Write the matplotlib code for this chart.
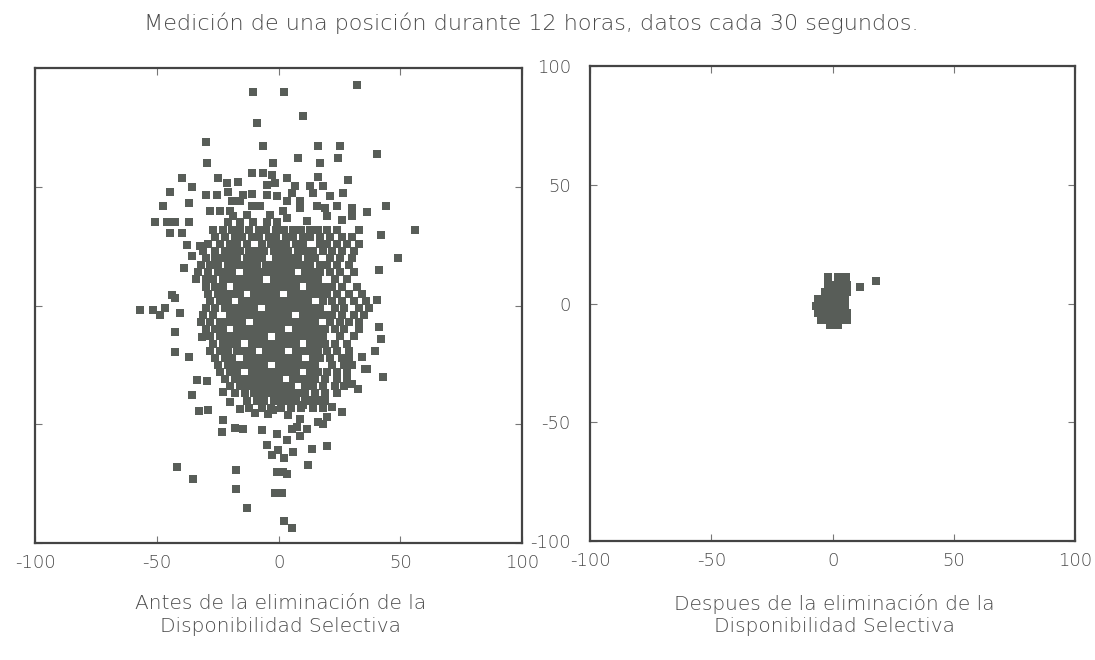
import numpy as np
import matplotlib
matplotlib.use("Agg")
import matplotlib.pyplot as plt


TITLE = "Medición de una posición durante 12 horas, datos cada 30 segundos."
LEFT_CAPTION = "Antes de la eliminación de la\nDisponibilidad Selectiva"
RIGHT_CAPTION = "Despues de la eliminación de la\nDisponibilidad Selectiva"
TICKS = [-100, -50, 0, 50, 100]

# scattered points around the cloud (before SA removal), read one by one
left_outer_x = [
    -10.5, -9, -30, -6.4, -29.4, -2.3, 2, 32, 10, 16, 25, 40.5, 8, 17, 24.5,
    3.5, 16, 28.6, -39.7, -35.6, -44.6, -37, -47.5, -30, -25.3, -24.9, -21.2,
    -16.7, -11, -6.4, -2.7, -4.7, -1.4, -20.8, -14.6, -11, -4.7, -0.6, -19,
    -15.8, -11, -7.6, -28, -24, -20, -50.8, -45.9, -42.6, -37, -18.7, -13,
    -3.5, -21, -15.8, -10.5, -4.7, -0.6, 6.8, 13, 18, 5.6, 14.2, 21.2, 26.5,
    3.5, 8.8, 1.9, 8.8, 15.8, 19, 24, 30.2, 36.4, 44, 3.5, 11.7, 20, 26, 30.2,
    -44.6, -39.7, -37.6, -32.3, -35.6, -39, -43.8, -42.6, -57, -51.6, -48.8,
    -46.7, -40.5, -42.6, -31.5, -42.6, -37, -33.5, -29.4, -35.6, -32.7, -29,
    -22.8, -23.2, -17.9, -14.6, -6.8, -20, -15.8, -22.8, -9.7, -4.3, -2.3,
    -4.7, -2.7, -0.2, -0.6, -1.4, -41.8, -35, -17.5, -17.5, -13, -0.6,
    56, 49, 41, 41.8, 40.5, 41, 41.8, 39.7, 34.4, 43, 36.4, 32.7, 26, 20, 12,
    13.5, 6, 3.5, 1.9, 1.4, 2, 5.6, 3.5, 8.8, 11.7, 16.3, 7.6, 2, 18.3, 20,
    22, 16.9, 10, 13.8, 8.8, 4, 5.6, 30.2, 35.6,
]
left_outer_y = [
    90, 77, 69, 67, 60, 60, 90, 93, 80, 67, 67, 64, 62, 60, 62,
    53.5, 54, 52.7, 53.5, 50, 48, 43, 42, 46.4, 46.4, 53.5, 51.5,
    52, 56, 56, 55, 50.6, 51.5, 48, 46.4, 47, 46.4, 46, 44,
    44, 42, 42, 40, 39.7, 40, 35, 35, 35, 35, 37.7, 38,
    38, 35, 35, 35, 35, 35, 50.2, 50.2, 50.2, 47.3, 47.3, 46, 47.3,
    44, 44, 40, 41, 42, 41, 42, 41, 39.3, 42, 36.8, 35.6, 37.7, 36, 37.7,
    30.5, 30.5, 25.5, 25, 21, 16, 4.6, 3.3, -1.7, -2, -4,
    -1, -3, -11.3, -13.4, -19.7, -21.8, -31.5, -31.8, -37.5, -44.4, -44,
    -48, -53, -51.5, -52, -52.3, -40.6, -43.5, -36.4, -45, -45.6, -44,
    -58.6, -62.8, -60.7, -69.9, -79, -67.8, -73, -69, -77, -85, -54,
    32, 20, 15, 29.7, 2.5, -9, -14, -19, -21.8, -30, -26.8, -35, -44.8, -59, -67,
    -60.5, -61.5, -71, -70, -79, -90.8, -93.7, -56.5, -55, -52, -49, -51, -64, -50, -46.9,
    -42.7, -39.7, -41.8, -39.7, -47.7, -46, -52, -33, -26.8,
]

# dense core of the cloud, read row by row (y level -> x positions)
core_row_y = [32, 29, 26, 23, 20, 17, 14, 11, 8, 5, 2, -1, -4, -7, -10,
              -13, -16, -19, -22, -25, -28, -31, -34, -37, -40, -43]
core_row_x = [
    [-27, -23, -19, -16, -12, -8, -5, -1, 2, 6, 9, 13, 16, 20, 24, 33],
    [-26, -22, -18, -15, -11, -8, -4, -1, 3, 6, 10, 13, 17, 21, 26, 30],
    [-29, -24, -20, -17, -13, -7, -3, 0, 3, 7, 10, 17, 20, 24, 28, 33],
    [-31, -26, -22, -19, -16, -12, -9, -6, -2, 1, 4, 8, 11, 14, 18, 22, 26, 31],
    [-30, -26, -23, -20, -17, -13, -10, -7, -1, 2, 5, 8, 12, 15, 21, 25, 30],
    [-32, -28, -25, -21, -18, -15, -12, -9, -5, -2, 1, 4, 7, 10, 13, 17, 20, 24, 29],
    [-33, -29, -25, -22, -19, -13, -10, -7, -4, -1, 2, 5, 11, 14, 17, 21, 25, 31],
    [-34, -30, -27, -23, -20, -17, -14, -11, -8, -2, 1, 4, 7, 10, 13, 16, 23, 28],
    [-30, -26, -23, -17, -14, -11, -8, -5, -2, 1, 4, 7, 13, 16, 19, 22, 26, 32],
    [-29, -25, -22, -19, -16, -10, -7, -4, -1, 5, 8, 11, 14, 17, 20, 24, 29, 34],
    [-28, -24, -21, -15, -12, -9, -6, -3, 0, 3, 6, 9, 12, 18, 22, 26, 31, 36],
    [-30, -26, -22, -19, -16, -13, -10, -4, -1, 2, 5, 8, 11, 14, 17, 23, 27, 33, 37],
    [-31, -27, -20, -17, -14, -11, -8, -5, -2, 1, 4, 10, 13, 16, 19, 22, 26, 31, 35],
    [-32, -28, -24, -21, -18, -15, -9, -6, -3, 0, 3, 6, 9, 12, 15, 21, 25, 29, 33],
    [-30, -26, -23, -17, -14, -11, -8, -5, -2, 1, 7, 10, 13, 16, 19, 23, 27, 33],
    [-28, -24, -21, -18, -15, -12, -9, -6, 0, 3, 6, 9, 12, 15, 18, 25, 31],
    [-27, -23, -20, -17, -11, -8, -5, -2, 1, 4, 7, 13, 16, 19, 23, 28],
    [-28, -24, -21, -17, -14, -11, -5, -2, 1, 7, 10, 13, 16, 20, 24, 29],
    [-26, -22, -19, -13, -10, -7, -4, -1, 2, 5, 8, 14, 17, 21, 26, 29],
    [-25, -21, -18, -15, -12, -9, -6, 0, 3, 6, 9, 12, 15, 22, 27, 30],
    [-24, -20, -17, -11, -8, -5, -2, 1, 4, 7, 13, 16, 20, 24, 28],
    [-22, -18, -15, -12, -9, -6, -3, 0, 6, 9, 12, 15, 19, 24, 28],
    [-20, -16, -13, -10, -7, -4, -1, 2, 5, 11, 14, 18, 23, 27],
    [-18, -14, -10, -7, -4, -1, 2, 5, 8, 11, 15, 19, 24],
    [-13, -9, -6, -2, 1, 4, 7, 11, 15, 19],
    [-12, -7, -3, 1, 5, 9, 14, 18],
]

# after SA removal: small cluster near the origin
right_x = [-2, 2, 5.5, -2, 1, 4, 6, -3, 0, 3, 6, -6, -3, 0, 3, 5,
           -7, -4, -1, 2, 5, -6, -3, 0, 3, 6, -5, -2, 1, 4, 6, -1, 2, 11.3, 17.8]
right_y = [11, 11, 11, 8, 8, 8, 8, 5, 5, 5, 5, 2, 2, 2, 2, 2,
           -1, -1, -1, -1, -1, -4, -4, -4, -4, -4, -7, -7, -7, -7, -7, -9, -9, 7.1, 9.5]

POINT_COLOR = "#585d58"
TEXT_COLOR = "#4a4a4a"
FONT = ["DejaVu Sans"]
plt.rcParams["axes.unicode_minus"] = False


def style_panel(ax, show_ylabels):
    ax.set_xlim(-100, 100)
    ax.set_ylim(-100, 100)
    ax.set_xticks(TICKS)
    ax.set_yticks(TICKS)
    ax.tick_params(direction="in", length=5, width=0.8, color="#777777",
                   top=True, right=True, labelsize=13, labelcolor=TEXT_COLOR, pad=8)
    if not show_ylabels:
        ax.tick_params(labelleft=False)
    else:
        ax.tick_params(axis="y", pad=14)
    for spine in ax.spines.values():
        spine.set_linewidth(1.6)
        spine.set_color("#444444")
    for label in ax.get_xticklabels() + ax.get_yticklabels():
        label.set_family(FONT)
        label.set_fontweight("light")


def main():
    core_x = [x for row in core_row_x for x in row]
    core_y = [y for y, row in zip(core_row_y, core_row_x) for _ in row]

    fig = plt.figure(figsize=(10.95, 6.6), dpi=100)
    ax_left = fig.add_axes([0.032, 0.177, 0.445, 0.720])
    ax_right = fig.add_axes([0.539, 0.180, 0.443, 0.720])

    for xs, ys in [(left_outer_x, left_outer_y), (core_x, core_y)]:
        ax_left.scatter(xs, ys, s=28, marker="s", color=POINT_COLOR, linewidths=0)
    ax_right.scatter(right_x, right_y, s=28, marker="s", color=POINT_COLOR, linewidths=0)

    style_panel(ax_left, False)
    style_panel(ax_right, True)

    fig.text(0.485, 0.965, TITLE, ha="center", va="center", fontsize=16,
             color=TEXT_COLOR, family=FONT, fontweight="light")
    fig.text(0.256, 0.068, LEFT_CAPTION, ha="center", va="center", fontsize=14.5,
             color=TEXT_COLOR, family=FONT, fontweight="light", linespacing=1.25)
    fig.text(0.762, 0.068, RIGHT_CAPTION, ha="center", va="center", fontsize=14.5,
             color=TEXT_COLOR, family=FONT, fontweight="light", linespacing=1.25)

    fig.savefig("out.png", dpi=100)
    plt.close(fig)


if __name__ == "__main__":
    main()
